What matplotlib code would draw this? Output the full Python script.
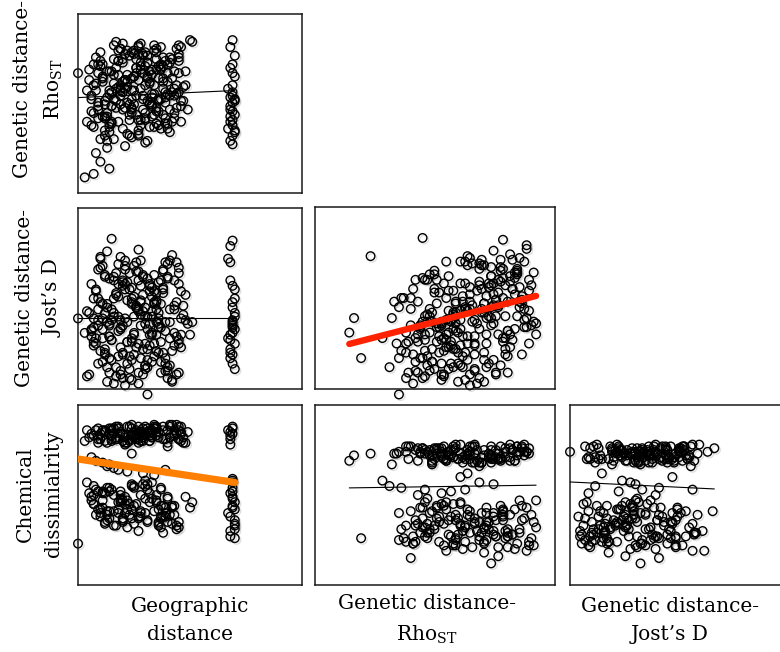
import matplotlib
matplotlib.use("Agg")
import matplotlib.pyplot as plt
import matplotlib.patheffects as pe
import numpy as np

# ── Data: one value per population pair (no axis ticks,
#    so everything is in relative panel units)
GEO = [
    .12, .25, .33, .08, .41, .19, .28, .36, .15, .22,
    .45, .10, .31, .24, .38, .06, .27, .17, .48, .21,
    .34, .13, .29, .40, .09, .26, .43, .18, .32, .05,
    .23, .37, .14, .30, .46, .11, .35, .20, .39, .07,
    .28, .16, .42, .24, .33, .12, .47, .19, .26, .37,
    .09, .31, .22, .44, .15, .35, .27, .04, .40, .18,
    .29, .13, .36, .21, .49, .10, .32, .25, .41, .17,
    .30, .07, .38, .23, .45, .14, .34, .20, .43, .11,
    .27, .39, .16, .31, .05, .24, .46, .19, .35, .28,
    .12, .42, .21, .33, .08, .37, .26, .15, .44, .22,
    .30, .18, .40, .10, .34, .25, .47, .13, .36, .20,
    .29, .06, .38, .23, .43, .16, .32, .11, .27, .41,
    .19, .35, .09, .24, .48, .14, .31, .37, .21, .28,
    .04, .39, .17, .33, .45, .12, .26, .42, .20, .30,
    .03, .07, .10, .14, .08, .13, .18, .22, .11, .16,
    .06, .24, .29, .34, .31, .00, .50, .51, .45, .38,
    .23, .36, .15, .27, .44, .09, .33, .19, .40, .25,
    .13, .30, .46, .21, .35, .07, .28, .39, .17, .32,
    .20, .34, .11, .27, .41, .16, .30, .38, .23, .08,
    .25, .43, .14, .32, .19, .36, .10, .29, .46, .22,
    .17, .39, .26, .12, .33, .44, .21, .06, .35, .28,
    .15, .40, .24, .31, .09, .37, .18, .42, .26, .13,
    .32, .21, .45, .11, .29, .36, .18, .40, .24, .14,
    .33, .20, .38, .07, .27, .43, .16, .30, .22, .35,
    .12, .28, .41, .19, .34, .09, .25, .37, .15, .31,
    .69, .68, .70, .69, .20, .27, .39, .14, .45, .24,
    .69, .68, .70, .69, .68, .69, .70, .67, .69, .68,
    .70, .69, .68, .69, .70, .68, .69, .67, .70, .69,
    .68, .69, .70, .68, .69,
]
RHO = [
    .55, .71, .48, .82, .39, .64, .77, .58, .45, .86,
    .62, .35, .79, .52, .68, .43, .88, .57, .74, .31,
    .66, .50, .84, .41, .73, .60, .47, .80, .55, .69,
    .37, .76, .63, .85, .54, .70, .44, .90, .59, .78,
    .46, .67, .81, .53, .72, .40, .65, .87, .49, .75,
    .56, .83, .38, .61, .74, .51, .89, .45, .68, .80,
    .58, .34, .77, .64, .52, .85, .42, .71, .60, .91,
    .47, .66, .82, .55, .73, .39, .86, .62, .50, .78,
    .69, .44, .81, .57, .75, .36, .88, .63, .53, .79,
    .48, .70, .84, .59, .67, .41, .76, .54, .87, .65,
    .33, .72, .61, .80, .49, .86, .57, .74, .43, .68,
    .83, .51, .77, .46, .64, .89, .56, .71, .38, .82,
    .60, .75, .52, .85, .66, .44, .79, .58, .69, .90,
    .63, .47, .76, .54, .84, .37, .73, .62, .81, .50,
    .13, .15, .22, .18, .27, .30, .45, .56, .68, .35,
    .60, .63, .52, .42, .34, .73, .92, .91, .89, .70,
    .49, .70, .44, .40, .66, .78, .61, .55, .73, .84,
    .48, .77, .57, .69, .87, .42, .64, .80, .53, .74,
    .52, .61, .70, .46, .79, .58, .66, .49, .83, .63,
    .55, .74, .42, .68, .87, .51, .77, .60, .45, .72,
    .64, .56, .81, .47, .75, .53, .69, .58, .85, .43,
    .62, .78, .50, .71, .54, .88, .65, .45, .76, .59,
    .67, .53, .82, .48, .73, .57, .86, .44, .70, .61,
    .55, .79, .64, .50, .84, .60, .72, .46, .68, .81,
    .57, .75, .52, .66, .89, .47, .63, .78, .54, .70,
    .62, .52, .40, .66, .41, .37, .62, .74, .80, .58,
    .92, .88, .83, .78, .76, .73, .71, .64, .60, .59,
    .57, .56, .54, .51, .49, .45, .43, .41, .39, .37,
    .34, .32, .58, .48, .46,
]
JOST = [
    .62, .30, .15, .55, .44, .08, .71, .36, .27, .49,
    .58, .21, .40, .05, .66, .33, .77, .12, .52, .39,
    .25, .47, .63, .10, .35, .70, .31, .18, .54, .42,
    .06, .60, .29, .45, .23, .68, .37, .57, .14, .50,
    .41, .03, .74, .28, .56, .19, .46, .34, .65, .09,
    .38, .61, .26, .48, .16, .53, .43, .07, .69, .32,
    .22, .45, .59, .02, .36, .72, .30, .51, .13, .64,
    .40, .24, .55, .11, .67, .35, .47, .20, .60, .28,
    .44, .17, .62, .33, .08, .50, .39, .73, .21, .57,
    .42, .04, .66, .31, .54, .15, .46, .27, .70, .37,
    .25, .58, .12, .48, .63, .19, .41, .76, .34, .06,
    .52, .29, .65, .18, .44, .60, .24, .39, .09, .71,
    .33, .49, .14, .56, .38, .61, .22, .47, .68, .35,
    .43, .10, .53, .30, .64, .20, .45, .05, .59, .36,
    .31, .39, .73, .17, .28, .12, .40, .26, .33, .50,
    .58, .16, .08, .48, -.03, .39, .30, .37, .25, .20,
    .55, .42, .83, .03, .29, .66, .51, .23, .62, .40,
    .37, .13, .54, .71, .44, .26, .48, .32, .07, .58,
    .35, .18, .47, .60, .28, .42, .11, .53, .64, .25,
    .31, .46, .09, .57, .38, .20, .67, .43, .30, .14,
    .52, .37, .23, .63, .40, .08, .55, .32, .48, .17,
    .44, .61, .26, .12, .50, .34, .69, .21, .45, .04,
    .36, .58, .27, .15, .62, .39, .51, .06, .47, .29,
    .43, .19, .56, .34, .65, .24, .40, .13, .59, .30,
    .22, .49, .37, .10, .54, .44, .68, .26, .38, .16,
    .45, .27, .55, .19, .60, .25, .70, .36, .09, .48,
    .36, .79, .33, .82, .30, .57, .25, .72, .38, .20,
    .42, .14, .70, .34, .11, .60, .35, .28, .50, .31,
    .17, .48, .40, .22, .37,
]
CHEM = [
    .74, .33, .72, .28, .77, .41, .69, .22, .75, .36,
    .70, .31, .76, .45, .27, .73, .19, .71, .38, .67,
    .78, .43, .74, .24, .68, .34, .75, .29, .72, .40,
    .77, .21, .73, .47, .69, .32, .76, .26, .70, .39,
    .74, .30, .78, .44, .71, .23, .68, .37, .75, .27,
    .72, .42, .77, .20, .70, .35, .73, .46, .66, .31,
    .76, .25, .71, .38, .74, .29, .69, .43, .78, .22,
    .72, .34, .75, .28, .70, .41, .77, .24, .73, .36,
    .68, .32, .76, .45, .71, .26, .74, .39, .77, .30,
    .69, .23, .72, .37, .75, .33, .70, .42, .78, .21,
    .73, .35, .68, .27, .76, .44, .71, .30, .74, .25,
    .69, .38, .77, .34, .72, .22, .75, .40, .70, .28,
    .73, .36, .76, .31, .68, .43, .74, .26, .71, .39,
    .75, .29, .70, .46, .77, .24, .72, .33, .69, .37,
    .69, .72, .73, .26, .58, .55, .53, .52, .57, .54,
    .60, .62, .51, .50, .74, .12, .32, .35, .24, .18,
    .70, .31, .76, .27, .73, .41, .71, .36, .75, .23,
    .68, .44, .77, .29, .72, .34, .74, .27, .70, .40,
    .73, .30, .75, .26, .71, .39, .77, .33, .69, .42,
    .72, .28, .76, .35, .74, .24, .70, .45, .73, .31,
    .77, .27, .71, .40, .75, .22, .68, .36, .74, .29,
    .72, .38, .76, .25, .70, .43, .77, .32, .73, .28,
    .69, .34, .75, .41, .71, .23, .76, .37, .72, .30,
    .74, .26, .70, .44, .77, .33, .73, .29, .68, .39,
    .75, .27, .71, .35, .76, .31, .72, .42, .69, .24,
    .32, .72, .23, .37, .36, .74, .53, .56, .21, .78,
    .47, .74, .20, .41, .16, .77, .35, .29, .46, .70,
    .22, .38, .19, .76, .31, .27, .43, .75, .15, .33,
    .40, .73, .25, .67, .48,
]

# fitted lines (intercept, slope) in the same relative units
FIT_RHO_GEO = (0.589, 0.058)
FIT_JOST_GEO = (0.39, 0.0)
FIT_JOST_RHO = (0.204, 0.334)
FIT_CHEM_GEO = (0.59, -0.186)
FIT_CHEM_RHO = (0.537, 0.019)
FIT_CHEM_JOST = (0.571, -0.045)

plt.rcParams["font.family"] = ["DejaVu Serif"]
plt.rcParams["mathtext.fontset"] = "custom"
plt.rcParams["mathtext.rm"] = "DejaVu Serif"

FS = 14.5
LS = 1.6
RHO_LBL = "Genetic distance-\nRho$_{\\mathrm{ST}}$"
JOST_LBL = "Genetic distance-\nJost\u2019s D"

geo = np.array(GEO)
rho = np.array(RHO)
jost = np.array(JOST)
chem = np.array(CHEM)

fig = plt.figure(figsize=(7.8, 6.52), dpi=100)
W, H = 780.0, 652.0

def panel(l, t, r, b):
    return fig.add_axes([l / W, 1 - b / H, (r - l) / W, (b - t) / H])

shadow = [pe.SimpleLineShadow(offset=(1.2, -1.2), shadow_color="k", alpha=0.12),
          pe.Normal()]

def draw(ax, x, y, fit, xlim, ylim, color="k", lw=0.8):
    ax.scatter(x, y, s=38, facecolors="none", edgecolors="k",
               linewidths=1.0, path_effects=shadow, zorder=2, clip_on=False)
    xs = np.array([x.min(), x.max()])
    ax.plot(xs, fit[0] + fit[1] * xs, color=color, lw=lw,
            solid_capstyle="round", zorder=3)
    ax.set_xlim(*xlim)
    ax.set_ylim(*ylim)
    ax.set_xticks([])
    ax.set_yticks([])
    for s in ax.spines.values():
        s.set_linewidth(1.1)
        s.set_color("#1a1a1a")

ax11 = panel(78, 14, 302, 193)
draw(ax11, geo, rho, FIT_RHO_GEO, (0, 1), (0.04, 1.07))

ax21 = panel(78, 208, 302, 389)
draw(ax21, geo, jost, FIT_JOST_GEO, (0, 1), (0, 1))

ax22 = panel(315, 207, 555, 389)
draw(ax22, rho, jost, FIT_JOST_RHO, (-0.015, 1.0), (0, 1),
     color="#ff2200", lw=4.6)

ax31 = panel(78, 405, 302, 585)
draw(ax31, geo, chem, FIT_CHEM_GEO, (0, 1), (-0.11, 0.89),
     color="#ff7f00", lw=5.2)

ax32 = panel(315, 405, 555, 585)
draw(ax32, rho, chem, FIT_CHEM_RHO, (-0.015, 1.0), (0, 1))

ax33 = panel(570, 405, 810, 585)
draw(ax33, jost, chem, FIT_CHEM_JOST, (-0.03, 1.40), (0, 1))

# row labels
kw = dict(ha="center", va="center", multialignment="center",
          fontsize=FS, linespacing=LS)
fig.text(39 / W, 1 - 89 / H, RHO_LBL, rotation=90, **kw)
fig.text(39 / W, 1 - 298 / H, JOST_LBL, rotation=90, **kw)
fig.text(39 / W, 1 - 494 / H, "Chemical\ndissimialrity", rotation=90, **kw)

# column labels
fig.text(190 / W, 1 - 620 / H, "Geographic\ndistance", **kw)
fig.text(427 / W, 1 - 620 / H, RHO_LBL, **kw)
fig.text(670 / W, 1 - 620 / H, JOST_LBL, **kw)

fig.savefig("out.png", dpi=100)
